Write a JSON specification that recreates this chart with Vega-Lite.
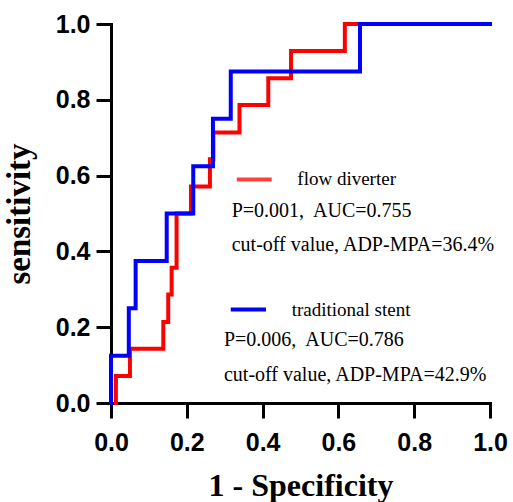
{
  "$schema": "https://vega.github.io/schema/vega-lite/v6.json",
  "width": 379,
  "height": 379,
  "autosize": {"type": "none"},
  "padding": {"left": 111, "top": 24, "right": 23, "bottom": 99},
  "background": "white",
  "config": {"view": {"stroke": null}, "axis": {"grid": false}},
  "datasets": {
    "roc": [
      {"group": "flow diverter", "step": 1, "fpr": 0.013, "tpr": 0},
      {"group": "flow diverter", "step": 2, "fpr": 0.013, "tpr": 0.071},
      {"group": "flow diverter", "step": 3, "fpr": 0.05, "tpr": 0.071},
      {"group": "flow diverter", "step": 4, "fpr": 0.05, "tpr": 0.143},
      {"group": "flow diverter", "step": 5, "fpr": 0.138, "tpr": 0.143},
      {"group": "flow diverter", "step": 6, "fpr": 0.138, "tpr": 0.214},
      {"group": "flow diverter", "step": 7, "fpr": 0.151, "tpr": 0.214},
      {"group": "flow diverter", "step": 8, "fpr": 0.151, "tpr": 0.286},
      {"group": "flow diverter", "step": 9, "fpr": 0.16, "tpr": 0.286},
      {"group": "flow diverter", "step": 10, "fpr": 0.16, "tpr": 0.357},
      {"group": "flow diverter", "step": 11, "fpr": 0.173, "tpr": 0.357},
      {"group": "flow diverter", "step": 12, "fpr": 0.173, "tpr": 0.5},
      {"group": "flow diverter", "step": 13, "fpr": 0.211, "tpr": 0.5},
      {"group": "flow diverter", "step": 14, "fpr": 0.211, "tpr": 0.571},
      {"group": "flow diverter", "step": 15, "fpr": 0.261, "tpr": 0.571},
      {"group": "flow diverter", "step": 16, "fpr": 0.261, "tpr": 0.643},
      {"group": "flow diverter", "step": 17, "fpr": 0.27, "tpr": 0.643},
      {"group": "flow diverter", "step": 18, "fpr": 0.27, "tpr": 0.714},
      {"group": "flow diverter", "step": 19, "fpr": 0.339, "tpr": 0.714},
      {"group": "flow diverter", "step": 20, "fpr": 0.339, "tpr": 0.786},
      {"group": "flow diverter", "step": 21, "fpr": 0.415, "tpr": 0.786},
      {"group": "flow diverter", "step": 22, "fpr": 0.415, "tpr": 0.857},
      {"group": "flow diverter", "step": 23, "fpr": 0.475, "tpr": 0.857},
      {"group": "flow diverter", "step": 24, "fpr": 0.475, "tpr": 0.929},
      {"group": "flow diverter", "step": 25, "fpr": 0.617, "tpr": 0.929},
      {"group": "flow diverter", "step": 26, "fpr": 0.617, "tpr": 1},
      {"group": "flow diverter", "step": 27, "fpr": 1, "tpr": 1},
      {"group": "traditional stent", "step": 1, "fpr": 0, "tpr": 0},
      {"group": "traditional stent", "step": 2, "fpr": 0, "tpr": 0.125},
      {"group": "traditional stent", "step": 3, "fpr": 0.047, "tpr": 0.125},
      {"group": "traditional stent", "step": 4, "fpr": 0.047, "tpr": 0.25},
      {"group": "traditional stent", "step": 5, "fpr": 0.065, "tpr": 0.25},
      {"group": "traditional stent", "step": 6, "fpr": 0.065, "tpr": 0.375},
      {"group": "traditional stent", "step": 7, "fpr": 0.147, "tpr": 0.375},
      {"group": "traditional stent", "step": 8, "fpr": 0.147, "tpr": 0.5},
      {"group": "traditional stent", "step": 9, "fpr": 0.217, "tpr": 0.5},
      {"group": "traditional stent", "step": 10, "fpr": 0.217, "tpr": 0.625},
      {"group": "traditional stent", "step": 11, "fpr": 0.269, "tpr": 0.625},
      {"group": "traditional stent", "step": 12, "fpr": 0.269, "tpr": 0.75},
      {"group": "traditional stent", "step": 13, "fpr": 0.316, "tpr": 0.75},
      {"group": "traditional stent", "step": 14, "fpr": 0.316, "tpr": 0.875},
      {"group": "traditional stent", "step": 15, "fpr": 0.657, "tpr": 0.875},
      {"group": "traditional stent", "step": 16, "fpr": 0.657, "tpr": 1},
      {"group": "traditional stent", "step": 17, "fpr": 1, "tpr": 1}
    ],
    "keys": [
      {"group": "flow diverter", "x0": 0.332, "x1": 0.424, "y": 0.59},
      {"group": "traditional stent", "x0": 0.316, "x1": 0.409, "y": 0.247}
    ],
    "names": [
      {"label": "flow diverter", "x": 0.4916, "y": 0.575},
      {"label": "traditional stent", "x": 0.4768, "y": 0.2296}
    ],
    "stats": [
      {"label": "P=0.001,\u00a0 AUC=0.755", "x": 0.3185, "y": 0.4916},
      {"label": "cut-off value, ADP-MPA=36.4%", "x": 0.3185, "y": 0.4018},
      {"label": "P=0.006,\u00a0 AUC=0.786", "x": 0.298, "y": 0.15},
      {"label": "cut-off value, ADP-MPA=42.9%", "x": 0.298, "y": 0.0588}
    ]
  },
  "layer": [
    {
      "data": {"name": "roc"},
      "transform": [{"filter": "datum.group === 'flow diverter'"}],
      "mark": {"type": "line", "color": "#ff0000", "strokeWidth": 4, "strokeCap": "square", "strokeJoin": "miter"},
      "encoding": {
        "x": {
          "field": "fpr", "type": "quantitative",
          "scale": {"domain": [0, 1], "nice": false, "zero": false},
          "axis": {
            "title": "1 - Specificity",
            "values": [0, 0.2, 0.4, 0.6, 0.8, 1],
            "format": ".1f",
            "labelFont": "Liberation Sans", "labelFontWeight": "bold", "labelFontSize": 25, "labelColor": "black",
            "labelPadding": 12, "labelFlush": false, "labelOverlap": false,
            "domainColor": "black", "domainWidth": 3, "domainCap": "square",
            "tickColor": "black", "tickWidth": 3, "tickSize": 15,
            "titleFont": "Liberation Serif", "titleFontWeight": "bold", "titleFontSize": 32, "titleColor": "black",
            "titlePadding": 15
          }
        },
        "y": {
          "field": "tpr", "type": "quantitative",
          "scale": {"domain": [0, 1], "nice": false, "zero": false},
          "axis": {
            "title": "sensitivity",
            "values": [0, 0.2, 0.4, 0.6, 0.8, 1],
            "format": ".1f",
            "labelFont": "Liberation Sans", "labelFontWeight": "bold", "labelFontSize": 25, "labelColor": "black",
            "labelPadding": 6, "labelFlush": false, "labelOverlap": false,
            "domainColor": "black", "domainWidth": 3, "domainCap": "square",
            "tickColor": "black", "tickWidth": 3, "tickSize": 15,
            "titleFont": "Liberation Serif", "titleFontWeight": "bold", "titleFontSize": 33, "titleColor": "black",
            "titlePadding": 19
          }
        },
        "order": {"field": "step", "type": "quantitative"}
      }
    },
    {
      "data": {"name": "roc"},
      "transform": [{"filter": "datum.group === 'traditional stent'"}],
      "mark": {"type": "line", "color": "#0000ff", "strokeWidth": 4, "strokeCap": "square", "strokeJoin": "miter"},
      "encoding": {
        "x": {"field": "fpr", "type": "quantitative"},
        "y": {"field": "tpr", "type": "quantitative"},
        "order": {"field": "step", "type": "quantitative"}
      }
    },
    {
      "data": {"name": "keys"},
      "mark": {"type": "rule", "strokeWidth": 4},
      "encoding": {
        "x": {"field": "x0", "type": "quantitative"},
        "x2": {"field": "x1"},
        "y": {"field": "y", "type": "quantitative"},
        "color": {"field": "group", "type": "nominal", "scale": {"domain": ["flow diverter", "traditional stent"], "range": ["#ff4040", "#0000ff"]}, "legend": null}
      }
    },
    {
      "data": {"name": "names"},
      "mark": {"type": "text", "align": "left", "baseline": "alphabetic", "font": "Liberation Serif", "fontSize": 19, "color": "black"},
      "encoding": {
        "x": {"field": "x", "type": "quantitative"},
        "y": {"field": "y", "type": "quantitative"},
        "text": {"field": "label"}
      }
    },
    {
      "data": {"name": "stats"},
      "mark": {"type": "text", "align": "left", "baseline": "alphabetic", "font": "Liberation Serif", "fontSize": 20, "color": "black"},
      "encoding": {
        "x": {"field": "x", "type": "quantitative"},
        "y": {"field": "y", "type": "quantitative"},
        "text": {"field": "label"}
      }
    }
  ]
}
